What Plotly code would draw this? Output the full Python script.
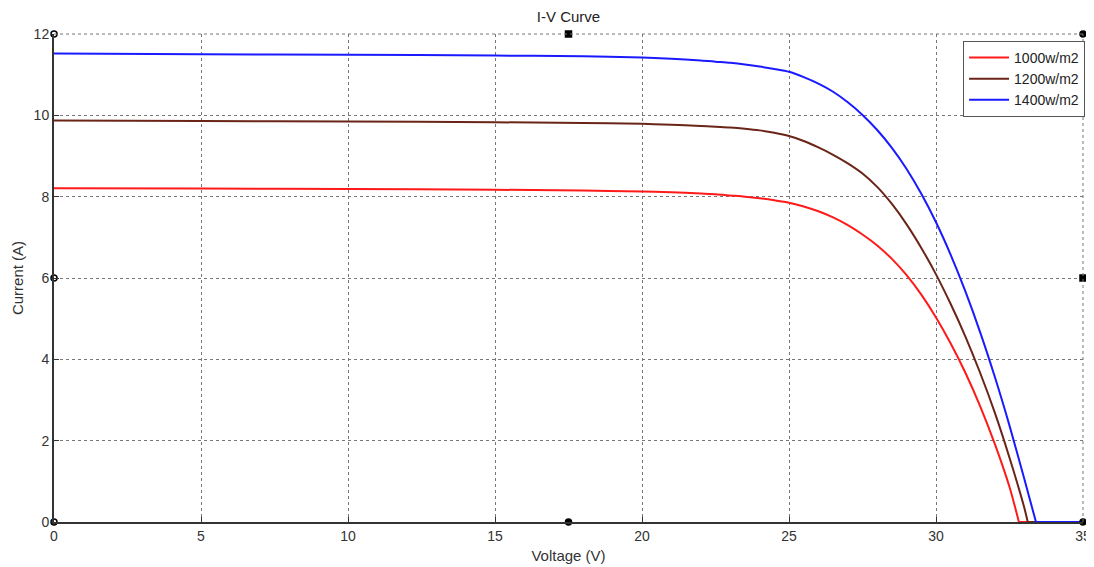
import plotly.graph_objects as go

# ---- data (V in volts, I in amperes) ----
v_1000 = [0, 5, 10, 15, 18, 20, 21, 22, 22.5, 23, 23.5, 24, 24.5, 25, 25.5, 26, 26.5, 27, 27.5, 28, 28.5, 29, 29.5, 30, 30.5, 31, 31.5, 32, 32.5, 32.82, 35]
i_1000 = [8.21, 8.20, 8.19, 8.17, 8.15, 8.13, 8.11, 8.08, 8.06, 8.03, 8.00, 7.96, 7.91, 7.85, 7.76, 7.64, 7.49, 7.30, 7.07, 6.80, 6.47, 6.07, 5.59, 5.03, 4.39, 3.67, 2.85, 1.92, 0.86, 0.0, 0.0]

v_1200 = [0, 5, 10, 15, 18, 20, 21, 22, 22.5, 23, 23.5, 24, 24.5, 25, 25.5, 26, 26.5, 27, 27.5, 28, 28.5, 29, 29.5, 30, 30.5, 31, 31.5, 32, 32.5, 33, 33.12, 35]
i_1200 = [9.87, 9.86, 9.85, 9.83, 9.81, 9.79, 9.77, 9.74, 9.72, 9.70, 9.67, 9.63, 9.57, 9.49, 9.37, 9.21, 9.03, 8.82, 8.57, 8.24, 7.82, 7.32, 6.74, 6.09, 5.36, 4.56, 3.67, 2.69, 1.58, 0.36, 0.0, 0.0]

v_1400 = [0, 5, 10, 15, 18, 20, 21, 22, 22.5, 23, 23.5, 24, 24.5, 25, 25.5, 26, 26.5, 27, 27.5, 28, 28.5, 29, 29.5, 30, 30.5, 31, 31.5, 32, 32.5, 33, 33.4, 35]
i_1400 = [11.52, 11.50, 11.49, 11.47, 11.45, 11.42, 11.39, 11.35, 11.32, 11.29, 11.25, 11.20, 11.14, 11.07, 10.94, 10.78, 10.58, 10.32, 10.01, 9.64, 9.20, 8.68, 8.07, 7.37, 6.57, 5.67, 4.67, 3.57, 2.37, 1.07, 0.0, 0.0]

series_names = ["1000w/m2", "1200w/m2", "1400w/m2"]
series_colors = ["#ff1a1a", "#6b2418", "#1a1aff"]

# figure edit handles visible in the reference (data coordinates)
handle_x = [0, 17.5, 35, 0, 35, 0, 17.5, 35]
handle_y = [12, 12, 12, 6, 6, 0, 0, 0]
handle_sym = ["circle-open", "square", "circle", "circle-open", "square", "circle-open", "circle", "circle"]

x_ticks = [0, 5, 10, 15, 20, 25, 30, 35]
y_ticks = [0, 2, 4, 6, 8, 10, 12]

FONT = "Liberation Sans, Arial, sans-serif"

fig = go.Figure()
for vx, iy, nm, col in zip([v_1000, v_1200, v_1400], [i_1000, i_1200, i_1400], series_names, series_colors):
    k = iy.index(0.0)  # first zero-current point (open circuit)
    # smooth curve part
    fig.add_trace(go.Scatter(x=vx[:k + 1], y=iy[:k + 1], mode="lines", name=nm, legendgroup=nm,
                             line=dict(color=col, width=2, shape="spline", smoothing=0.8)))
    # flat part along the voltage axis
    fig.add_trace(go.Scatter(x=vx[k:], y=iy[k:], mode="lines", name=nm, legendgroup=nm,
                             showlegend=False, hoverinfo="skip",
                             line=dict(color=col, width=2)))

fig.add_trace(go.Scatter(x=handle_x, y=handle_y, mode="markers", showlegend=False,
                         hoverinfo="skip", cliponaxis=False,
                         marker=dict(color="black", size=6, symbol=handle_sym,
                                     line=dict(color="black", width=1.5))))

axis_font = dict(family=FONT, size=14, color="#333333")
title_font = dict(family=FONT, size=15, color="#333333")

# page has an 8px body margin, so the figure is 8px smaller than the window
fig.update_layout(
    width=1086, height=559,
    margin=dict(l=46, r=11, t=26, b=45, autoexpand=False),
    paper_bgcolor="white", plot_bgcolor="white",
    title=dict(text="I-V Curve", x=0.5, xref="paper", xanchor="center",
               y=1, yref="container", yanchor="top", pad=dict(t=3, b=0),
               font=dict(family=FONT, size=15, color="#222222")),
    showlegend=True,
    legend=dict(x=1.002, xanchor="right", y=0.986, yanchor="top",
                bgcolor="white", bordercolor="#555555", borderwidth=1,
                font=dict(family=FONT, size=14, color="#222222"),
                tracegroupgap=0, itemwidth=40),
    font=axis_font,
)

fig.update_xaxes(range=[0, 35], tickvals=x_ticks, ticks="inside", ticklen=5, tickcolor="#333333",
                 showline=True, linecolor="#333333", linewidth=2, mirror=False,
                 showgrid=True, gridcolor="#777777", griddash="dot", gridwidth=1,
                 zeroline=False, tickfont=axis_font, automargin=False,
                 title=dict(text="Voltage (V)", font=title_font, standoff=8))
fig.update_yaxes(range=[0, 12], tickvals=y_ticks, ticks="inside", ticklen=5, tickcolor="#333333",
                 showline=True, linecolor="#333333", linewidth=2, mirror=False,
                 showgrid=True, gridcolor="#777777", griddash="dot", gridwidth=1,
                 zeroline=False, tickfont=axis_font, automargin=False,
                 title=dict(text="Current (A)", font=title_font, standoff=6))

# dotted frame at top and right (matches reference's dotted border)
fig.add_shape(type="line", xref="paper", yref="paper", x0=0, x1=1, y0=1, y1=1,
              line=dict(color="#777777", width=1, dash="dot"))
fig.add_shape(type="line", xref="paper", yref="paper", x0=1, x1=1, y0=0, y1=1,
              line=dict(color="#777777", width=1, dash="dot"))

fig.write_html("out.html")
